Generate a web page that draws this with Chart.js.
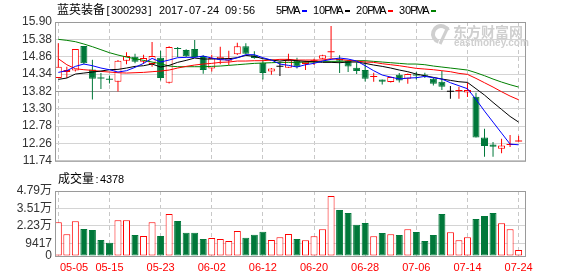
<!DOCTYPE html>
<html>
<head>
<meta charset="utf-8">
<title>蓝英装备 K线</title>
<script src="https://cdn.jsdelivr.net/npm/chart.js@4.4.1/dist/chart.umd.min.js"></script>
<style>
  html, body { margin: 0; padding: 0; background: #fff; }
  #wrap { position: relative; width: 578px; height: 276px; }
  canvas { position: absolute; left: 0; }
</style>
</head>
<body>
<div id="wrap">
  <canvas id="kline" width="578" height="172" style="top:0"></canvas>
  <canvas id="volume" width="578" height="104" style="top:172px"></canvas>
</div>
<script>
const dates = ['05-05','05-08','05-09','05-10','05-11','05-12','05-15','05-16','05-17','05-18','05-19','05-22','05-23','05-24','05-25','05-26','05-31',
  '06-01','06-02','06-05','06-06','06-07','06-08','06-09','06-12','06-13','06-14','06-15','06-16','06-19','06-20','06-21','06-22','06-23','06-26','06-27','06-28','06-29','06-30',
  '07-03','07-04','07-05','07-06','07-07','07-10','07-11','07-12','07-13','07-14','07-17','07-18','07-19','07-20','07-21','07-24'];

const opens  = [14.22,14.40,14.45,15.18,14.48,14.23,14.18,14.11,14.74,14.86,14.71,14.64,14.83,14.08,15.10,15.06,15.09,14.88,14.51,14.77,
                14.74,14.93,15.17,14.90,14.68,14.42,14.56,14.53,14.74,14.64,14.72,14.80,14.99,14.80,14.74,14.53,14.46,14.25,14.18,14.10,
                14.32,14.20,14.31,14.33,14.20,14.11,13.81,13.83,13.79,13.66,12.44,12.23,12.10,12.21,12.32];
const highs  = [15.26,14.56,15.09,15.18,14.77,14.37,14.30,14.76,14.99,14.95,14.92,15.30,15.04,15.17,15.15,15.08,15.36,14.90,14.92,15.16,
                15.04,15.28,15.26,15.02,14.76,14.52,14.71,14.95,14.83,14.74,14.80,14.92,15.78,14.90,14.76,14.69,14.72,14.38,14.18,14.26,
                14.37,14.36,14.40,14.38,14.22,14.43,13.98,13.96,14.08,13.78,12.70,12.30,12.40,12.51,12.49];
const lows   = [14.22,14.22,14.42,14.63,13.58,13.89,14.06,13.82,14.63,14.66,14.64,14.56,14.15,14.06,14.85,14.85,14.83,14.35,14.42,14.63,
                14.61,14.91,14.93,14.80,14.18,14.32,14.28,14.52,14.51,14.46,14.61,14.78,14.82,14.37,14.40,14.34,14.12,14.11,14.03,14.09,
                14.09,14.05,14.18,14.22,14.00,13.86,13.60,13.60,13.65,12.44,11.86,11.86,11.97,12.15,12.32];
const closes = [14.56,14.46,15.09,14.66,14.20,14.21,14.17,14.74,14.88,14.71,14.82,14.88,14.22,15.15,15.09,14.87,14.85,14.46,14.82,14.86,
                14.82,15.17,14.95,14.82,14.37,14.51,14.56,14.75,14.56,14.71,14.73,14.90,15.00,14.74,14.57,14.43,14.20,14.26,14.11,14.25,
                14.15,14.34,14.30,14.29,14.05,13.96,13.81,13.84,13.86,12.44,12.18,12.16,12.20,12.22,12.33];
const volumes = [24830,15990,25570,19900,19160,11790,9800,26310,26310,15480,14740,24830,14740,30950,25790,17170,17170,12530,13260,12530,
                 11050,18420,13510,15720,17910,11790,13760,16210,12530,11550,14520,19650,44210,33900,31690,23090,24320,14520,16950,15990,
                 15480,19650,17690,11050,15480,30950,17470,11550,13760,27270,29480,31690,24100,19650,4378];

const ma5  = [14.39,14.44,14.57,14.64,14.59,14.52,14.47,14.40,14.44,14.54,14.66,14.81,14.70,14.76,14.83,14.84,14.84,14.88,14.82,14.77,
              14.76,14.83,14.92,14.92,14.83,14.76,14.64,14.60,14.55,14.62,14.66,14.73,14.78,14.82,14.79,14.73,14.59,14.44,14.31,14.25,
              14.19,14.22,14.23,14.27,14.23,14.19,14.08,13.99,13.90,13.58,13.23,12.90,12.57,12.24,12.22];
const ma10 = [14.18,14.22,14.34,14.37,14.40,14.43,14.47,14.48,14.52,14.57,14.59,14.64,14.55,14.60,14.69,14.75,14.82,14.79,14.79,14.80,
              14.80,14.83,14.90,14.87,14.80,14.76,14.73,14.76,14.74,14.72,14.71,14.69,14.69,14.68,14.70,14.70,14.66,14.61,14.57,14.52,
              14.46,14.41,14.34,14.29,14.24,14.19,14.15,14.11,14.09,13.90,13.71,13.49,13.28,13.07,12.90];
const ma20 = [14.80,14.62,14.50,14.47,14.45,14.42,14.40,14.38,14.37,14.38,14.39,14.41,14.43,14.46,14.52,14.57,14.61,14.64,14.66,14.69,
              14.70,14.73,14.73,14.74,14.74,14.76,14.78,14.78,14.76,14.76,14.76,14.76,14.80,14.78,14.75,14.73,14.70,14.69,14.65,14.62,
              14.59,14.55,14.51,14.49,14.47,14.44,14.41,14.36,14.33,14.21,14.08,13.95,13.81,13.68,13.57];
const ma30 = [15.38,15.35,15.31,15.24,15.16,15.07,14.98,14.91,14.85,14.80,14.75,14.70,14.65,14.58,14.56,14.56,14.56,14.56,14.57,14.58,
              14.60,14.62,14.64,14.66,14.67,14.68,14.69,14.69,14.69,14.70,14.70,14.72,14.72,14.72,14.73,14.74,14.74,14.72,14.70,14.68,
              14.66,14.64,14.64,14.62,14.58,14.55,14.52,14.49,14.46,14.38,14.29,14.19,14.10,14.02,13.95];

const priceTicks = [11.74, 12.26, 12.78, 13.30, 13.82, 14.34, 14.86, 15.38, 15.90];
const volTicks = [0, 9417, 22300, 35100, 47900];
const volTickLabels = ['0', '9417', '2.23万', '3.51万', '4.79万'];
const dateTicks = [0, 6, 12, 18, 24, 30, 36, 42, 48, 54];

const RED = '#ff0000', GREEN = '#00783a', GRID = '#d4d4d4', DASH = '#c8c8c8', FRAME = '#9a9a9a';
const NUM_FONT = '"Liberation Sans", "Noto Sans CJK SC", sans-serif';

function lineColor(i) {
  if (closes[i] > opens[i]) return RED;
  if (closes[i] < opens[i]) return GREEN;
  return '#000';
}
function bodyFill(i) {
  if (Math.abs(closes[i] - opens[i]) < 0.025) return lineColor(i);
  return closes[i] > opens[i] ? '#fff' : GREEN;
}

// fixed-cell text like the old bitmap fonts: 6px for ascii, 12px for CJK
function cellText(c, s, x, y, color) {
  c.fillStyle = color;
  c.textBaseline = 'alphabetic';
  for (const ch of s) {
    if (ch.charCodeAt(0) > 0x2e80) {
      c.font = '12px "Noto Sans CJK SC"';
      c.textAlign = 'left';
      c.fillText(ch, x, y);
      x += 12;
    } else {
      c.font = '11px "Liberation Sans"';
      c.textAlign = 'center';
      c.fillText(ch, x + 3, y);
      x += 6;
    }
  }
  return x;
}

const framePlugin = {
  id: 'frame',
  beforeDatasetsDraw(chart) {
    const a = chart.chartArea, c = chart.ctx;
    c.save();
    c.strokeStyle = FRAME;
    c.lineWidth = 1;
    c.strokeRect(a.left - 0.5, a.top + 0.5, a.right - a.left + 1, a.bottom - a.top);
    c.restore();
  }
};

const headPlugin = {
  id: 'head',
  beforeDatasetsDraw(chart) {
    // watermark
    const c = chart.ctx;
    c.save();
    c.strokeStyle = '#cfcfcf';
    c.lineWidth = 4;
    c.beginPath();
    c.arc(441, 34, 8, Math.PI * 0.6, Math.PI * 1.85);
    c.stroke();
    c.lineWidth = 3;
    c.beginPath();
    c.moveTo(440, 44);
    c.lineTo(448, 27);
    c.stroke();
    c.fillStyle = '#cfcfcf';
    c.font = 'bold 14px "Noto Sans CJK SC"';
    c.textAlign = 'left';
    c.fillText('东方财富网', 453, 37);
    c.font = 'bold 10px "Liberation Sans"';
    c.fillText('eastmoney.com', 454, 46);
    c.restore();
  },
  afterDraw(chart) {
    const c = chart.ctx;
    c.save();
    cellText(c, '蓝英装备[300293] 2017-07-24 09:56', 57, 14, '#000');
    const legend = [['5PMA', '#0000ff'], ['10PMA', '#000000'], ['20PMA', RED], ['30PMA', '#008000']];
    let x = 276;
    legend.forEach(([t, col]) => {
      x = cellText(c, t, x, 14, '#000');
      c.fillStyle = col;
      c.fillRect(x + 2, 10, 5, 2);
      x += 13;
    });
    c.restore();
  }
};

const volTextPlugin = {
  id: 'voltext',
  afterDraw(chart) {
    const c = chart.ctx, sx = chart.scales.x, a = chart.chartArea;
    c.save();
    cellText(c, '成交量:' + volumes[volumes.length - 1], 58, 11, '#000');
    c.font = '11px "Liberation Sans"';
    c.fillStyle = RED;
    c.textAlign = 'left';
    dateTicks.forEach(i => {
      const w = c.measureText(dates[i]).width;
      let x = sx.getPixelForValue(i) - w / 2;
      if (x < a.left + 4) x = a.left + 4;
      c.fillText(dates[i], x, a.bottom + 15);
    });
    c.restore();
  }
};

const xAxis = {
  type: 'linear',
  min: -0.27,
  max: 54.75,
  offset: false,
  afterBuildTicks: s => { s.ticks = dateTicks.map(v => ({ value: v })); },
  afterFit: s => { s.height = 0; },
  ticks: { display: false },
  grid: { color: DASH, drawTicks: false, offset: false },
  border: { display: false, dash: [4, 3] }
};

const kChart = new Chart(document.getElementById('kline'), {
  type: 'bar',
  data: {
    datasets: [
      { type: 'line', label: 'MA5', data: ma5.map((v, i) => ({ x: i, y: v })), borderColor: '#0000ff', borderWidth: 1, pointRadius: 0, order: 0 },
      { type: 'line', label: 'MA10', data: ma10.map((v, i) => ({ x: i, y: v })), borderColor: '#000000', borderWidth: 1, pointRadius: 0, order: 0 },
      { type: 'line', label: 'MA20', data: ma20.map((v, i) => ({ x: i, y: v })), borderColor: RED, borderWidth: 1, pointRadius: 0, order: 0 },
      { type: 'line', label: 'MA30', data: ma30.map((v, i) => ({ x: i, y: v })), borderColor: '#008000', borderWidth: 1, pointRadius: 0, order: 0 },
      {
        label: 'body',
        data: opens.map((o, i) => ({ x: i, y: [o, closes[i]] })),
        backgroundColor: ctx => bodyFill(ctx.dataIndex),
        borderColor: ctx => lineColor(ctx.dataIndex),
        borderWidth: ctx => Math.abs(closes[ctx.dataIndex] - opens[ctx.dataIndex]) < 0.025 ? 0 : 1,
        borderSkipped: false,
        barThickness: 7,
        minBarLength: 1,
        inflateAmount: 0,
        grouped: false,
        order: 1
      },
      {
        label: 'wick',
        data: lows.map((l, i) => ({ x: i, y: [l, highs[i]] })),
        backgroundColor: ctx => lineColor(ctx.dataIndex),
        borderWidth: 0,
        barThickness: 1,
        inflateAmount: 0,
        grouped: false,
        order: 2
      }
    ]
  },
  options: {
    responsive: false,
    devicePixelRatio: 1,
    animation: false,
    layout: { padding: { top: 22, right: 53, bottom: 6, left: 0 } },
    plugins: { legend: { display: false }, tooltip: { enabled: false } },
    scales: {
      x: xAxis,
      y: {
        min: 11.74,
        max: 15.90,
        bounds: 'data',
        afterBuildTicks: s => { s.ticks = priceTicks.map(v => ({ value: v })); },
        afterFit: s => { s.width = 56; },
        ticks: { autoSkip: false, padding: 4, color: '#333', font: { family: NUM_FONT, size: 12 }, callback: v => v.toFixed(2) },
        grid: { drawTicks: false, color: ctx => (ctx.tick && ctx.tick.value === 13.82) ? FRAME : GRID },
        border: { display: false }
      }
    }
  },
  plugins: [framePlugin, headPlugin]
});

const vChart = new Chart(document.getElementById('volume'), {
  type: 'bar',
  data: {
    datasets: [{
      label: '成交量',
      data: volumes.map((v, i) => ({ x: i, y: v })),
      backgroundColor: ctx => closes[ctx.dataIndex] >= opens[ctx.dataIndex] ? '#fff' : GREEN,
      borderColor: ctx => closes[ctx.dataIndex] >= opens[ctx.dataIndex] ? RED : GREEN,
      borderWidth: 1,
      borderSkipped: false,
      barThickness: 7,
      inflateAmount: 0,
      grouped: false
    }]
  },
  options: {
    responsive: false,
    devicePixelRatio: 1,
    animation: false,
    layout: { padding: { top: 19, right: 53, bottom: 20, left: 0 } },
    plugins: { legend: { display: false }, tooltip: { enabled: false } },
    scales: {
      x: Object.assign({}, xAxis),
      y: {
        min: 0,
        max: 47900,
        bounds: 'data',
        afterBuildTicks: s => { s.ticks = volTicks.map(v => ({ value: v })); },
        afterFit: s => { s.width = 56; },
        ticks: { autoSkip: false, padding: 4, color: '#333', font: { family: NUM_FONT, size: 12 }, callback: (v, idx) => volTickLabels[idx] },
        grid: { drawTicks: false, color: GRID },
        border: { display: false }
      }
    }
  },
  plugins: [framePlugin, volTextPlugin]
});
</script>
</body>
</html>
